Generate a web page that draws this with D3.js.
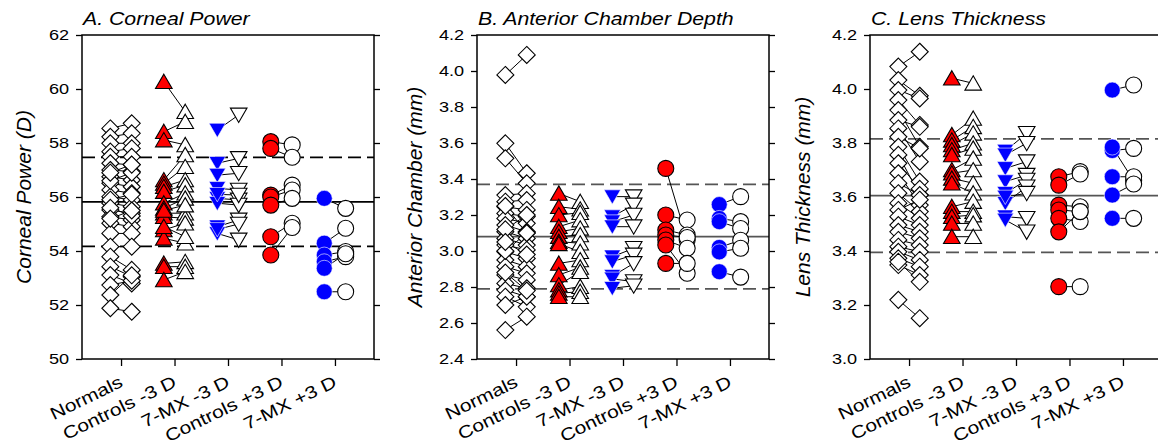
<!DOCTYPE html>
<html><head><meta charset="utf-8">
<script src="https://cdn.jsdelivr.net/npm/d3@7"></script>
<style>
html,body{margin:0;padding:0;background:#fff;}
svg{display:block;font-family:"Liberation Sans",Arial,sans-serif;}
</style></head>
<body>
<svg id="chart" width="1158" height="447"></svg>
<script>
const categories = ["Normals","Controls -3 D","7-MX -3 D","Controls +3 D","7-MX +3 D"];

// Panel A: Corneal Power (D)
const cpTicks = [50,52,54,56,58,60,62];
const cpRef = [54.17,55.82,57.47];
const cpNormalsL = [58.54,58.23,57.99,57.68,57.49,57.25,57.0,56.75,56.51,56.26,56.01,55.77,55.52,55.27,55.03,54.65,54.16,53.79,53.42,53.11,52.74,52.37,51.88,56.6,55.9,55.6,56.9,55.2];
const cpNormalsR = [58.73,58.36,57.99,57.8,57.49,57.19,56.94,56.63,56.38,56.14,55.89,55.64,55.4,55.15,54.9,54.65,54.16,53.3,53.05,52.8,52.9,53.1,51.75,56.9,56.1,55.3,57.2,55.5];
const cpCtlMinusL = [60.27,58.42,58.11,56.63,56.5,56.38,56.2,55.77,55.58,55.4,55.27,54.78,54.47,53.54,53.42,52.93,55.5,54.9];
const cpCtlMinusR = [59.16,58.79,57.93,57.56,57.12,56.63,56.44,56.14,55.95,55.4,55.21,55.03,54.29,53.6,53.42,53.23,55.7,54.53];
const cpMxMinusL = [58.48,57.25,56.81,56.32,55.95,55.77,54.9,54.65,56.1,54.8];
const cpMxMinusR = [59.04,57.43,56.88,56.26,55.89,55.7,55.15,54.41,56.07,55.0];
const cpCtlPlusL = [58.05,57.8,56.07,56.0,55.7,54.53,53.85];
const cpCtlPlusR = [57.93,57.47,56.44,56.26,55.95,55.03,54.87];
const cpMxPlusL = [55.95,54.29,53.85,53.6,53.36,52.49];
const cpMxPlusR = [55.58,54.84,53.98,53.79,53.9,52.49];

// Panel B: Anterior Chamber Depth (mm)
const acdTicks = [2.4,2.6,2.8,3.0,3.2,3.4,3.6,3.8,4.0,4.2];
const acdRef = [2.79,3.08,3.37];
const acdNormalsL = [3.978,3.598,3.515,3.311,3.274,3.246,3.209,3.181,3.144,3.107,3.07,3.033,2.996,2.95,2.913,2.867,2.82,2.783,2.746,2.7,2.561,3.25,3.12,3.0,2.88,3.05];
const acdNormalsR = [4.089,3.432,3.376,3.32,3.283,3.228,3.191,3.154,3.107,3.07,3.033,3.006,2.959,2.913,2.876,2.839,2.793,2.746,2.69,2.746,2.635,3.1,3.2,3.1,2.78,2.98];
const acdCtlMinusL = [3.32,3.246,3.2,3.135,3.107,3.08,3.052,3.04,2.931,2.867,2.811,2.783,2.765,2.746];
const acdCtlMinusR = [3.274,3.232,3.213,3.172,3.126,3.089,3.043,2.996,2.95,2.909,2.885,2.802,2.774,2.746];
const acdMxMinusL = [3.302,3.191,3.163,3.135,2.968,2.941,2.86,2.845,2.793];
const acdMxMinusR = [3.302,3.256,3.2,3.135,3.015,2.978,2.931,2.83,2.807];
const acdCtlPlusL = [3.459,3.2,3.117,3.089,3.061,3.033,2.931];
const acdCtlPlusR = [3.061,3.172,3.089,3.075,3.015,2.876,2.931];
const acdMxPlusL = [3.258,3.181,3.163,3.02,2.995,2.885];
const acdMxPlusR = [3.302,3.163,3.125,3.06,3.015,2.855];

// Panel C: Lens Thickness (mm)
const ltTicks = [3.0,3.2,3.4,3.6,3.8,4.0,4.2];
const ltRef = [3.395,3.605,3.815];
const ltNormalsL = [4.083,4.033,3.996,3.959,3.922,3.885,3.854,3.823,3.786,3.756,3.725,3.688,3.651,3.614,3.577,3.552,3.527,3.496,3.471,3.441,3.416,3.397,3.373,3.348,3.36,3.219];
const ltNormalsR = [4.138,3.975,3.965,3.867,3.786,3.86,3.731,3.78,3.657,3.607,3.63,3.57,3.607,3.546,3.521,3.59,3.496,3.471,3.447,3.422,3.397,3.367,3.342,3.311,3.286,3.151];
const ltCtlMinusL = [4.04,3.83,3.81,3.793,3.774,3.756,3.7,3.688,3.669,3.651,3.564,3.546,3.527,3.502,3.453];
const ltCtlMinusR = [4.021,3.891,3.86,3.836,3.799,3.78,3.743,3.7,3.651,3.614,3.583,3.546,3.533,3.502,3.453];
const ltMxMinusL = [3.77,3.756,3.706,3.657,3.614,3.577,3.6,3.527,3.515];
const ltMxMinusR = [3.836,3.799,3.731,3.681,3.663,3.638,3.614,3.521,3.471];
const ltCtlPlusL = [3.675,3.644,3.57,3.552,3.521,3.471,3.268];
const ltCtlPlusR = [3.694,3.685,3.564,3.546,3.509,3.546,3.268];
const ltMxPlusL = [3.996,3.772,3.785,3.675,3.607,3.521];
const ltMxPlusR = [4.015,3.78,3.66,3.675,3.648,3.521];

const RED = "#ff0000", BLUE = "#0000ff";

function groups(nL,nR,cmL,cmR,mmL,mmR,cpL,cpR,mpL,mpR){
  return [
    {cat:1, L:nL, R:nR, shape:"diamond", fill:"#fff", stroke:"#000", sw:1.1},
    {cat:2, L:cmL, R:cmR, shape:"up", fill:RED, stroke:"#000", sw:1.1},
    {cat:3, L:mmL, R:mmR, shape:"down", fill:BLUE, stroke:"#fff", sw:0.6},
    {cat:4, L:cpL, R:cpR, shape:"circle", fill:RED, stroke:"#000", sw:1.1},
    {cat:5, L:mpL, R:mpR, shape:"circle", fill:BLUE, stroke:"#fff", sw:0.6}
  ];
}

const panels = [
  {left:82, title:"A. Corneal Power", ylabel:"Corneal Power (D)", ylabX:31, domain:[50,62], ticks:cpTicks, fmt:d3.format("d"), refs:cpRef, refColor:"#000",
   groups:groups(cpNormalsL,cpNormalsR,cpCtlMinusL,cpCtlMinusR,cpMxMinusL,cpMxMinusR,cpCtlPlusL,cpCtlPlusR,cpMxPlusL,cpMxPlusR)},
  {left:477, title:"B. Anterior Chamber Depth", ylabel:"Anterior Chamber (mm)", ylabX:422, domain:[2.4,4.2], ticks:acdTicks, fmt:d3.format(".1f"), refs:acdRef, refColor:"#555",
   groups:groups(acdNormalsL,acdNormalsR,acdCtlMinusL,acdCtlMinusR,acdMxMinusL,acdMxMinusR,acdCtlPlusL,acdCtlPlusR,acdMxPlusL,acdMxPlusR)},
  {left:870, title:"C. Lens Thickness", ylabel:"Lens Thickness (mm)", ylabX:810, domain:[3.0,4.2], ticks:ltTicks, fmt:d3.format(".1f"), refs:ltRef, refColor:"#555",
   groups:groups(ltNormalsL,ltNormalsR,ltCtlMinusL,ltCtlMinusR,ltMxMinusL,ltMxMinusR,ltCtlPlusL,ltCtlPlusR,ltMxPlusL,ltMxPlusR)}
];

const TOP = 35, BOT = 359, PW = 292, OFF = 0.2;
const svg = d3.select("#chart");

const shapes = {
  diamond: "M0,-8.5L8.5,0L0,8.5L-8.5,0Z",
  up: "M0,-7.5L8.3,6.8L-8.3,6.8Z",
  down: "M-8.3,-6.8L8.3,-6.8L0,7.5Z"
};

function drawMarker(g, shape, fill, stroke, sw){
  if(shape === "circle"){
    g.append("circle").attr("r",8).attr("fill",fill).attr("stroke",stroke).attr("stroke-width",sw);
  } else {
    g.append("path").attr("d",shapes[shape]).attr("fill",fill).attr("stroke",stroke).attr("stroke-width",sw).attr("stroke-linejoin","miter");
  }
}

panels.forEach(p => {
  const x = d3.scaleLinear().domain([0.27,5.73]).range([p.left, p.left+PW]);
  const y = d3.scaleLinear().domain(p.domain).range([BOT, TOP]);
  const g = svg.append("g");

  // reference lines
  p.refs.forEach((v,i) => {
    g.append("line").attr("x1",x(0.27)).attr("x2",x(5.73)).attr("y1",y(v)).attr("y2",y(v))
      .attr("stroke",p.refColor).attr("stroke-width",1.8)
      .attr("stroke-dasharray", i===1 ? null : "13,6");
  });

  // connecting lines
  p.groups.forEach(gr => {
    const n = Math.min(gr.L.length, gr.R.length);
    for(let i=0;i<n;i++){
      g.append("line").attr("x1",x(gr.cat-OFF)).attr("y1",y(gr.L[i]))
        .attr("x2",x(gr.cat+OFF)).attr("y2",y(gr.R[i]))
        .attr("stroke","#000").attr("stroke-width",1);
    }
  });

  // markers
  p.groups.forEach(gr => {
    gr.R.forEach(v => {
      const m = g.append("g").attr("transform",`translate(${x(gr.cat+OFF)},${y(v)})`);
      drawMarker(m, gr.shape, "#fff", "#000", 1.1);
    });
    gr.L.forEach(v => {
      const m = g.append("g").attr("transform",`translate(${x(gr.cat-OFF)},${y(v)})`);
      drawMarker(m, gr.shape, gr.fill, gr.stroke, gr.sw);
    });
  });

  // frame
  g.append("rect").attr("x",p.left).attr("y",TOP).attr("width",PW).attr("height",BOT-TOP)
    .attr("fill","none").attr("stroke","#000").attr("stroke-width",1.5);

  // left axis
  const ax = g.append("g").attr("transform",`translate(${p.left},0)`)
    .call(d3.axisLeft(y).tickValues(p.ticks).tickFormat(p.fmt).tickSize(6).tickPadding(5));
  ax.select(".domain").remove();
  ax.selectAll("line").attr("stroke","#000").attr("stroke-width",1.3);
  ax.selectAll("text").attr("font-size","15.5px").attr("fill","#000")
    .attr("font-family","Liberation Sans, Arial, sans-serif").attr("transform","scale(1.17,1)");

  // right axis
  const ar = g.append("g").attr("transform",`translate(${p.left+PW},0)`)
    .call(d3.axisRight(y).tickValues(p.ticks).tickFormat("").tickSize(6));
  ar.select(".domain").remove();
  ar.selectAll("line").attr("stroke","#000").attr("stroke-width",1.3);

  // bottom axis
  const ab = g.append("g").attr("transform",`translate(0,${BOT})`)
    .call(d3.axisBottom(x).tickValues([1,2,3,4,5]).tickFormat("").tickSize(7));
  ab.select(".domain").remove();
  ab.selectAll("line").attr("stroke","#000").attr("stroke-width",1.3);

  // category labels
  categories.forEach((c,i) => {
    g.append("text")
      .attr("transform",`translate(${x(i+1)+3},${BOT+27}) rotate(-26) scale(1.2,1)`)
      .attr("text-anchor","end").attr("font-size","17.5px").attr("fill","#000").text(c);
  });

  // title
  g.append("text").attr("transform",`translate(${p.left+1},25) scale(1.12,1)`)
    .attr("font-size","19px").attr("font-style","italic").attr("fill","#000").text(p.title);

  // y label
  g.append("text").attr("transform",`translate(${p.ylabX},${(TOP+BOT)/2}) rotate(-90)`)
    .attr("text-anchor","middle").attr("font-size","21px").attr("font-style","italic").attr("fill","#000").text(p.ylabel);
});
</script>
</body></html>
